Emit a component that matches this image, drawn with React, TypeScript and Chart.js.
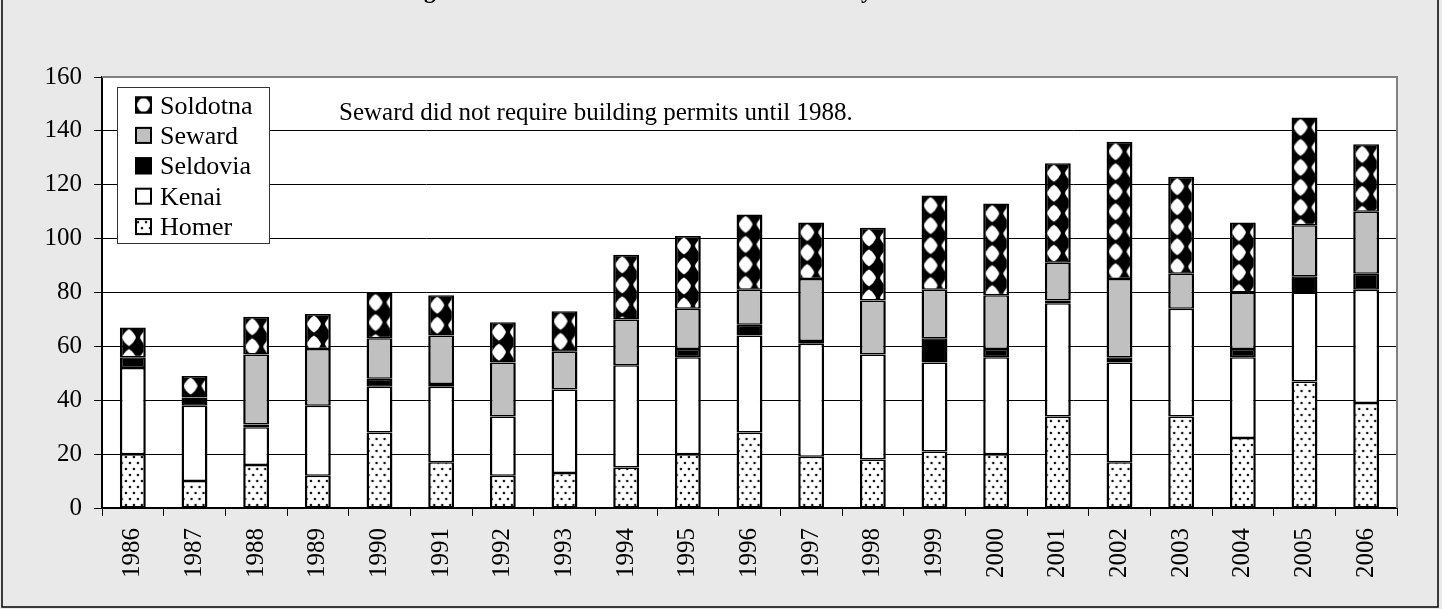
import React, { useEffect, useRef } from "react";
import { Chart, registerables } from "chart.js";

Chart.register(...registerables);

// ---- data ----
const years = [
  "1986", "1987", "1988", "1989", "1990", "1991", "1992", "1993", "1994", "1995", "1996",
  "1997", "1998", "1999", "2000", "2001", "2002", "2003", "2004", "2005", "2006",
];
const homer = [20, 10, 16, 12, 28, 17, 12, 13, 15, 20, 28, 19, 18, 21, 20, 34, 17, 34, 26, 47, 39];
const kenai = [32, 28, 14, 26, 17, 28, 22, 31, 38, 36, 36, 42, 39, 33, 36, 42, 37, 40, 30, 33, 42];
const seldovia = [4, 3, 1, 0, 3, 1, 0, 0, 0, 3, 4, 1, 0, 9, 3, 1, 2, 0, 3, 6, 6];
const seward = [0, 0, 26, 21, 15, 18, 20, 14, 17, 15, 13, 23, 20, 18, 20, 14, 29, 13, 21, 19, 23];
const soldotna = [11, 8, 14, 13, 17, 15, 15, 15, 24, 27, 28, 21, 27, 35, 34, 37, 51, 36, 26, 40, 25];
const seriesLabels = ["Homer", "Kenai", "Seldovia", "Seward", "Soldotna"];
const yMin = 0;
const yMax = 160;
const yStep = 20;
const noteText = "Seward did not require building permits until 1988.";
const titleText = "Residential Building Permits Issued in Kenai Peninsula Cities by Year";

const FONT = '"Liberation Serif", "Times New Roman", serif';
const BG = "#e9e9e9";

function makeHomerTile(): HTMLCanvasElement {
  const c = document.createElement("canvas");
  c.width = 8;
  c.height = 12;
  const g = c.getContext("2d")!;
  g.fillStyle = "#fff";
  g.fillRect(0, 0, 8, 12);
  g.fillStyle = "#111";
  g.beginPath();
  g.arc(2, 3, 1.3, 0, Math.PI * 2);
  g.arc(6, 9, 1.3, 0, Math.PI * 2);
  g.fill();
  return c;
}

function makeSoldotnaTile(): HTMLCanvasElement {
  const c = document.createElement("canvas");
  c.width = 18;
  c.height = 20;
  const g = c.getContext("2d")!;
  g.fillStyle = "#000";
  g.fillRect(0, 0, 18, 20);
  g.fillStyle = "#fff";
  const cx = 9, cy = 10;
  g.beginPath();
  g.moveTo(cx, cy - 8.5);
  g.quadraticCurveTo(cx + 5.2, cy - 5.2, cx + 7, cy);
  g.quadraticCurveTo(cx + 5.2, cy + 5.2, cx, cy + 8.5);
  g.quadraticCurveTo(cx - 5.2, cy + 5.2, cx - 7, cy);
  g.quadraticCurveTo(cx - 5.2, cy - 5.2, cx, cy - 8.5);
  g.closePath();
  g.fill();
  return c;
}

export default function App() {
  const ref = useRef<HTMLCanvasElement>(null);

  useEffect(() => {
    const canvas = ref.current!;
    const homerTile = makeHomerTile();
    const solTile = makeSoldotnaTile();
    const BAR_PCT = 0.42;
    const totals = years.map(
      (_, i) => homer[i] + kenai[i] + seldovia[i] + seward[i] + soldotna[i]
    );

    const anchored = (tile: HTMLCanvasElement, fromTop: boolean) => (c: any) => {
      const chart = c.chart;
      const xs = chart.scales.x;
      const ys = chart.scales.y;
      if (!xs || !ys || c.type !== "data") return "#000";
      const bw = (xs.width / years.length) * BAR_PCT;
      const left = xs.getPixelForValue(c.dataIndex) - bw / 2;
      const top = fromTop
        ? ys.getPixelForValue(totals[c.dataIndex])
        : ys.getPixelForValue(0);
      const p = chart.ctx.createPattern(tile, "repeat");
      p.setTransform(new DOMMatrix([1, 0, 0, 1, left, top]));
      return p;
    };

    const border = { left: 2.5, right: 2.5, top: 1.5, bottom: 1.5 };
    const common = {
      borderColor: "#000",
      borderWidth: border,
      borderSkipped: false,
      barPercentage: BAR_PCT,
      categoryPercentage: 1,
    };

    const swatchFills: any[] = [null, "#fff", "#000", "#c0c0c0", null];

    const deco = {
      id: "deco",
      beforeDraw(chart: any) {
        const { ctx, chartArea: a } = chart;
        ctx.save();
        ctx.fillStyle = BG;
        ctx.fillRect(0, 0, chart.width, chart.height);
        ctx.fillStyle = "#fff";
        ctx.fillRect(a.left, a.top, a.right - a.left, a.bottom - a.top);
        // outer frame
        ctx.strokeStyle = "#000";
        ctx.lineWidth = 1.5;
        ctx.strokeRect(2, -10, 1436, 617);
        // title (mostly above the visible area)
        ctx.font = `bold 20px ${FONT}`;
        const gPre = ctx.measureText("Residential Buildin").width;
        const gW = ctx.measureText("g").width;
        const yPre = ctx.measureText(
          "Residential Building Permits Issued in Kenai Peninsula Cities b"
        ).width;
        const yW = ctx.measureText("y").width;
        const dist = yPre + yW / 2 - (gPre + gW / 2);
        const fs = (20 * 437) / dist;
        const startX = 430 - ((gPre + gW / 2) * fs) / 20;
        ctx.font = `bold ${fs}px ${FONT}`;
        ctx.fillStyle = "#000";
        ctx.textAlign = "left";
        ctx.textBaseline = "alphabetic";
        ctx.fillText(titleText, startX, -2);
        ctx.restore();
      },
      afterDraw(chart: any) {
        const { ctx, chartArea: a } = chart;
        ctx.save();
        // gray plot border (top & right)
        ctx.strokeStyle = "#808080";
        ctx.lineWidth = 2;
        ctx.beginPath();
        ctx.moveTo(a.left, a.top);
        ctx.lineTo(a.right, a.top);
        ctx.lineTo(a.right, a.bottom);
        ctx.stroke();

        // legend
        const lx = 117, ly = 87, lw = 152, lh = 156;
        ctx.fillStyle = "#fff";
        ctx.fillRect(lx, ly, lw, lh);
        ctx.strokeStyle = "#333";
        ctx.lineWidth = 1;
        ctx.strokeRect(lx + 0.5, ly + 0.5, lw, lh);
        ctx.font = `26px ${FONT}`;
        ctx.textAlign = "left";
        ctx.textBaseline = "alphabetic";
        const order = [4, 3, 2, 1, 0];
        order.forEach((di, row) => {
          const base = 113.5 + row * 30.4;
          const sx = 135, sy = base - 17, ss = 17;
          let fill: any = swatchFills[di];
          if (di === 0 || di === 4) {
            const tile = di === 0 ? homerTile : solTile;
            const p = ctx.createPattern(tile, "repeat");
            p.setTransform(
              new DOMMatrix([1, 0, 0, 1, di === 4 ? sx - 0.5 : sx + 1, di === 4 ? sy - 1.5 : sy + 1])
            );
            fill = p;
          }
          ctx.fillStyle = fill;
          ctx.fillRect(sx, sy, ss, ss);
          ctx.strokeStyle = "#000";
          ctx.lineWidth = 2;
          ctx.strokeRect(sx + 1, sy + 1, ss - 2, ss - 2);
          ctx.fillStyle = "#000";
          ctx.fillText(seriesLabels[di], 160, base);
        });

        // note
        ctx.font = `25px ${FONT}`;
        ctx.fillStyle = "#000";
        ctx.fillText(noteText, 339, 120);
        ctx.restore();
      },
    };

    const chart = new Chart(canvas, {
      type: "bar",
      data: {
        labels: years,
        datasets: [
          { label: seriesLabels[0], data: homer, backgroundColor: anchored(homerTile, false), ...common },
          { label: seriesLabels[1], data: kenai, backgroundColor: "#fff", ...common },
          { label: seriesLabels[2], data: seldovia, backgroundColor: "#000", ...common },
          { label: seriesLabels[3], data: seward, backgroundColor: "#c0c0c0", ...common },
          { label: seriesLabels[4], data: soldotna, backgroundColor: anchored(solTile, true), ...common },
        ] as any,
      },
      options: {
        responsive: false,
        maintainAspectRatio: false,
        animation: false,
        layout: { padding: { left: 0, right: 45, top: 77, bottom: 0 } },
        plugins: {
          legend: { display: false },
          tooltip: { enabled: false },
          title: { display: false },
        },
        scales: {
          x: {
            stacked: true,
            offset: true,
            grid: {
              offset: true,
              drawOnChartArea: false,
              drawTicks: true,
              tickLength: 8,
              color: "#000",
              lineWidth: 1,
            },
            border: { display: true, color: "#000", width: 2 },
            ticks: {
              autoSkip: false,
              minRotation: 90,
              maxRotation: 90,
              padding: 12,
              color: "#000",
              font: { family: FONT, size: 25 },
            },
            afterFit: (s: any) => {
              s.height = 101;
            },
          },
          y: {
            stacked: true,
            min: yMin,
            max: yMax,
            ticks: {
              stepSize: yStep,
              padding: 12,
              color: "#000",
              font: { family: FONT, size: 25 },
            },
            grid: {
              color: "#000",
              lineWidth: 1,
              drawTicks: true,
              tickLength: 8,
            },
            border: { display: true, color: "#000", width: 2 },
            afterFit: (s: any) => {
              s.width = 102;
            },
          },
        },
      } as any,
      plugins: [deco],
    });

    return () => chart.destroy();
  }, []);

  return (
    <div style={{ position: "fixed", left: 0, top: 0, width: 1442, height: 609 }}>
      <canvas ref={ref} width={1442} height={609} style={{ display: "block", width: 1442, height: 609 }} />
    </div>
  );
}
